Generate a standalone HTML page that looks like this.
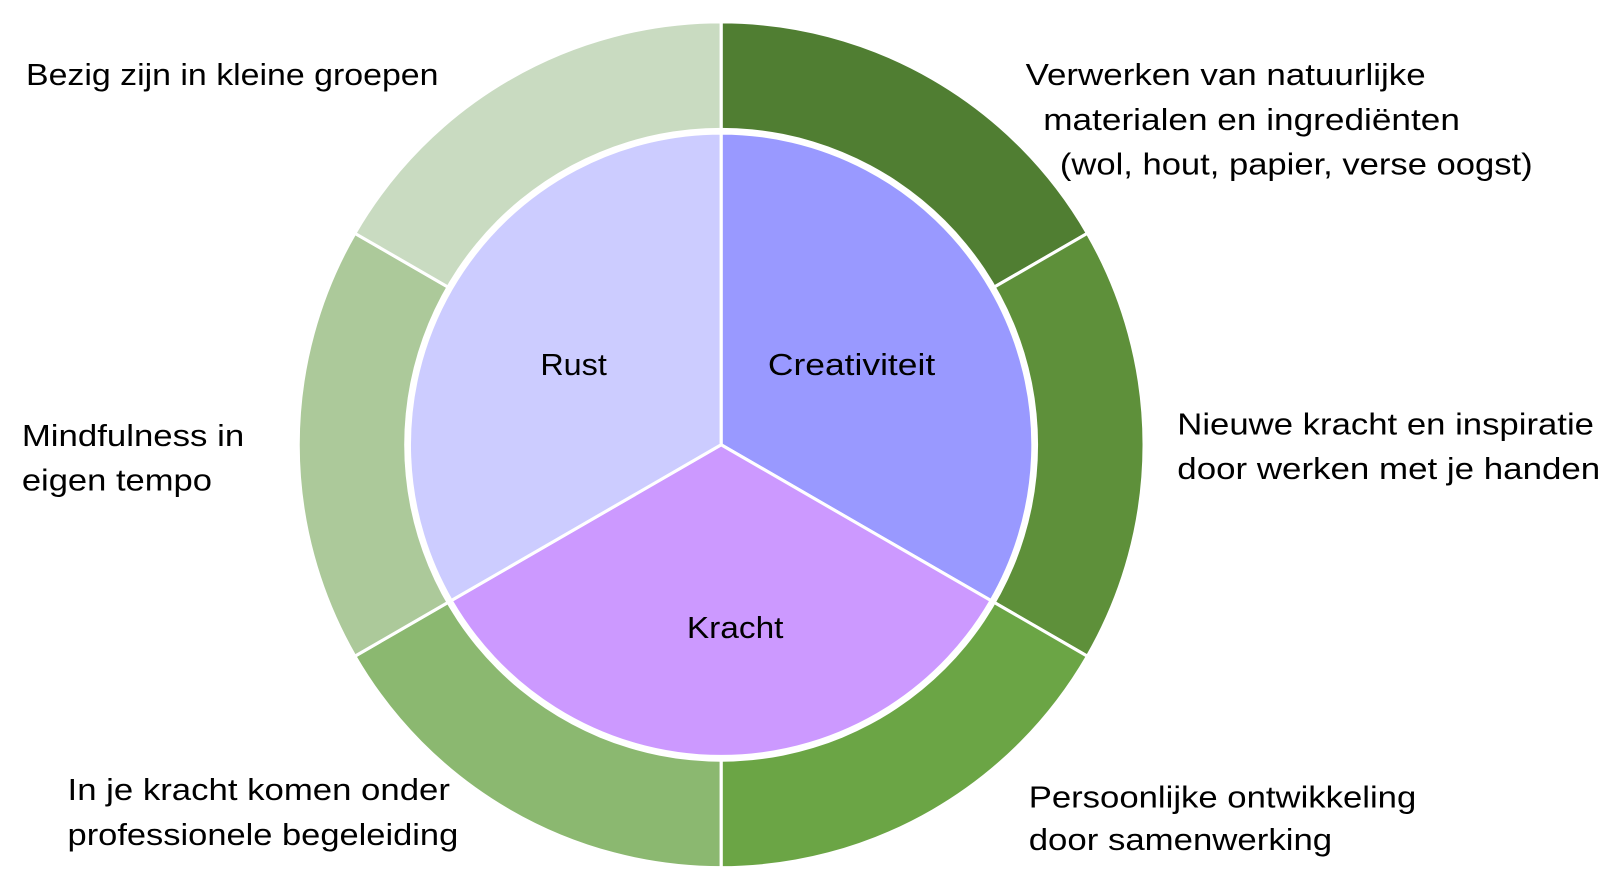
<!DOCTYPE html>
<html><head><meta charset="utf-8"><style>
html,body{margin:0;padding:0;background:#fff;}
svg{display:block;}
text{font-family:"Liberation Sans",sans-serif;font-size:29px;fill:#000;}
</style></head><body>
<svg width="1621" height="889" viewBox="0 0 1560 855.5" preserveAspectRatio="none" xmlns="http://www.w3.org/2000/svg">
<g transform="translate(-4,-4)">
<g stroke="#fff" stroke-width="3">
<path d="M698,432 L698,25 A407,407 0 0 1 1050.5,228.5 Z" fill="#507E32"/>
<path d="M698,432 L1050.5,228.5 A407,407 0 0 1 1050.5,635.5 Z" fill="#5E903A"/>
<path d="M698,432 L1050.5,635.5 A407,407 0 0 1 698,839 Z" fill="#6BA545"/>
<path d="M698,432 L698,839 A407,407 0 0 1 345.5,635.5 Z" fill="#8BB870"/>
<path d="M698,432 L345.5,635.5 A407,407 0 0 1 345.5,228.5 Z" fill="#ACC99A"/>
<path d="M698,432 L345.5,228.5 A407,407 0 0 1 698,25 Z" fill="#C9DBC1"/>
</g>
<circle cx="698" cy="432" r="305" fill="#fff"/>
<g stroke="#fff" stroke-width="3">
<path d="M698,432 L698,132 A300,300 0 0 1 957.8,582 Z" fill="#9999FF"/>
<path d="M698,432 L957.8,582 A300,300 0 0 1 438.2,582 Z" fill="#CC99FF"/>
<path d="M698,432 L438.2,582 A300,300 0 0 1 698,132 Z" fill="#CCCCFF"/>
</g>
</g>
<g transform="translate(-3,-2)">
<text x="523" y="363" textLength="64" lengthAdjust="spacingAndGlyphs">Rust</text>
<text x="742" y="363" textLength="161" lengthAdjust="spacingAndGlyphs">Creativiteit</text>
<text x="664" y="616" textLength="93" lengthAdjust="spacingAndGlyphs">Kracht</text>
<text x="28" y="84" textLength="397" lengthAdjust="spacingAndGlyphs">Bezig zijn in kleine groepen</text>
<text x="990" y="84" textLength="385" lengthAdjust="spacingAndGlyphs">Verwerken van natuurlijke</text>
<text x="1007" y="127" textLength="401" lengthAdjust="spacingAndGlyphs">materialen en ingrediënten</text>
<text x="1023" y="170" textLength="455" lengthAdjust="spacingAndGlyphs">(wol, hout, papier, verse oogst)</text>
<text x="1136" y="420" textLength="401" lengthAdjust="spacingAndGlyphs">Nieuwe kracht en inspiratie</text>
<text x="1136" y="463" textLength="407" lengthAdjust="spacingAndGlyphs">door werken met je handen</text>
<text x="24" y="431" textLength="214" lengthAdjust="spacingAndGlyphs">Mindfulness in</text>
<text x="24" y="474" textLength="183" lengthAdjust="spacingAndGlyphs">eigen tempo</text>
<text x="68" y="772" textLength="368" lengthAdjust="spacingAndGlyphs">In je kracht komen onder</text>
<text x="68" y="815" textLength="376" lengthAdjust="spacingAndGlyphs">professionele begeleiding</text>
<text x="993" y="779" textLength="373" lengthAdjust="spacingAndGlyphs">Persoonlijke ontwikkeling</text>
<text x="993" y="820" textLength="292" lengthAdjust="spacingAndGlyphs">door samenwerking</text>
</g>
</svg>
</body></html>
